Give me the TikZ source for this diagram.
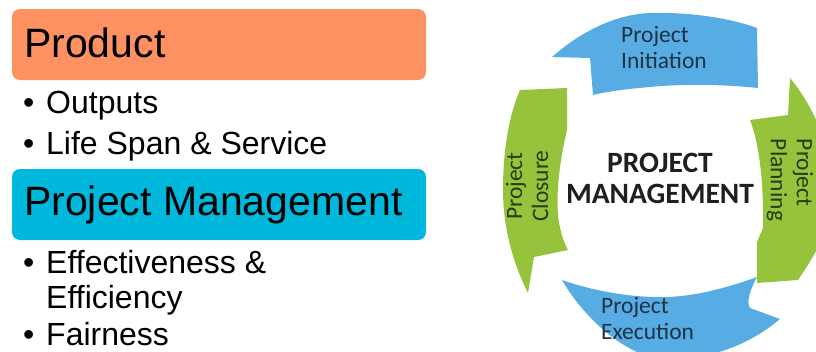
\documentclass[tikz,border=0pt]{standalone}
\usepackage{fontspec}
\setmainfont{Liberation Sans}
\newfontfamily\cyclefont{Carlito}

\definecolor{prodorange}{RGB}{253,145,98}
\definecolor{pmcyan}{RGB}{0,184,220}
\definecolor{cycblue}{RGB}{88,172,228}
\definecolor{cycgreen}{RGB}{150,195,60}
\definecolor{bluetext}{RGB}{30,50,70}
\definecolor{greentext}{RGB}{35,60,20}

\begin{document}
\begin{tikzpicture}[x=1pt, y=-1pt,
  headbox/.style={rounded corners=8pt, minimum width=414pt, minimum height=71pt, inner sep=0pt},
  headtext/.style={anchor=base west, inner sep=0pt, font=\fontsize{41}{41}\selectfont},
  itemtext/.style={anchor=base west, inner sep=0pt, font=\fontsize{32}{35}\selectfont},
  cyclabel/.style={inner sep=0pt, font=\cyclefont\fontsize{23.5}{26}\selectfont},
  centertext/.style={inner sep=0pt, align=center, text=black!88,
    font=\cyclefont\bfseries\fontsize{29.5}{31}\selectfont}]
  % page frame (pixel units, y downwards)
  \useasboundingbox (0,0) rectangle (816,351);

  % left column: two headings with their bullet lists
  \node[headbox, fill=prodorange] (productbox) at (219,44.5) {};
  \node[headtext] (product) at (24,57) {Product};
  \node[itemtext] (bulA) at (23,113) {•};
  \node[itemtext] (outputs) at (46,113) {Outputs};
  \node[itemtext] (bulB) at (23,154) {•};
  \node[itemtext] (lifespan) at (46,154) {Life Span \& Service};

  \node[headbox, fill=pmcyan] (pmbox) at (219,204.5) {};
  \node[headtext] (pmhead) at (24,215) {Project Management};
  \node[itemtext] (bulC) at (23,273) {•};
  \node[itemtext] (effect) at (46,273) {Effectiveness \&};
  \node[itemtext] (effic) at (46,308) {Efficiency};
  \node[itemtext] (bulD) at (23,345) {•};
  \node[itemtext] (fair) at (46,345) {Fairness};

  % right: ring of four curved arrows
  \begin{scope}
    \clip (0,0) rectangle (816,351);
    % top
    \fill[cycblue] (552,57) .. controls (585,28) and (620,14) .. (650,13)
      .. controls (690,12) and (730,18) .. (757,28) -- (758,88)
      .. controls (720,84) and (680,84) .. (650,87)
      .. controls (625,89) and (605,92) .. (593,95) -- (590,58) -- cycle;
    % right
    \fill[cycgreen] (790,78) .. controls (812,105) and (832,145) .. (832,188)
      .. controls (832,222) and (822,245) .. (798,280) -- (757,283)
      -- (757,242) -- (763,228)
      .. controls (764,190) and (760,145) .. (750,120) -- (788,115) -- cycle;
    % bottom
    \fill[cycblue] (562,280) .. controls (590,290) and (630,298) .. (667,297)
      .. controls (700,296) and (735,285) .. (757,277)
      .. controls (750,290) and (746,302) .. (750,308) -- (780,319)
      .. controls (755,340) and (720,358) .. (670,360)
      .. controls (630,360) and (585,320) .. (562,280) -- cycle;
    % left
    \fill[cycgreen] (520,90) -- (567,88) -- (567,130)
      .. controls (560,160) and (556,190) .. (558,215)
      .. controls (560,232) and (564,243) .. (568,250)
      -- (534,257) -- (528,293)
      .. controls (514,265) and (503,230) .. (503,190)
      .. controls (503,150) and (509,115) .. (520,90) -- cycle;
  \end{scope}

  \node[centertext] (pm) at (660,178) {PROJECT\\MANAGEMENT};
  \node[cyclabel, text=bluetext, align=left, anchor=north west] (init) at (621,26) {Project\\Initiation};
  \node[cyclabel, text=greentext, align=left, rotate=-90] (plan) at (790,180) {Project\\Planning};
  \node[cyclabel, text=bluetext, align=left, anchor=north west] (exec) at (601,297) {Project\\Execution};
  \node[cyclabel, text=greentext, align=center, rotate=90] (close) at (527,186) {Project\\Closure};
\end{tikzpicture}
\end{document}
